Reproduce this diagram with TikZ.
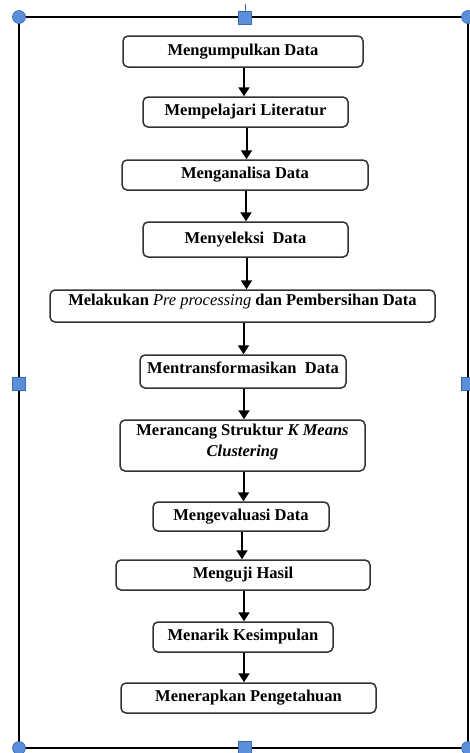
\documentclass[tikz,border=0pt]{standalone}
\usepackage{fontspec}
\setmainfont{Liberation Serif}
\usetikzlibrary{arrows.meta}
\definecolor{handleblue}{HTML}{5B8FD9}
\definecolor{handleedge}{HTML}{3A6AB0}
\tikzstyle{stepbox} = [draw=black!80, line width=1.5pt, fill=white,
    rectangle, rounded corners=5pt, align=center, inner sep=2pt,
    font=\bfseries\fontsize{16.5}{21}\selectfont]
\tikzstyle{flow} = [-{Triangle[length=9pt,width=11pt]}, line width=2pt]
\tikzstyle{handle} = [draw=handleedge, fill=handleblue, line width=0.6pt]

\begin{document}
\begin{tikzpicture}[x=1pt,y=-1pt]
    \useasboundingbox (0,0) rectangle (470,753);
    % frame with selection handles
    \draw[line width=1.5pt] (19,17) rectangle (468,748);
    \draw[handleedge, line width=1pt] (245,4) -- (245,17);
    \foreach \hx/\hy in {19/17, 468/17, 19/748, 468/748}
        \draw[handle] (\hx,\hy) circle (6.5pt);
    \foreach \hx/\hy in {245/18, 19/384, 468/384, 245/748}
        \draw[handle] (\hx-6.5,\hy-6.5) rectangle (\hx+6.5,\hy+6.5);

    % steps
    \node[stepbox, minimum width=240, minimum height=31] (s1) at (243,51.5) {Mengumpulkan Data};
    \node[stepbox, minimum width=205, minimum height=30] (s2) at (245.5,112) {Mempelajari Literatur};
    \node[stepbox, minimum width=246, minimum height=30] (s3) at (245,175) {Menganalisa Data};
    \node[stepbox, minimum width=205, minimum height=35] (s4) at (245.5,239.5) {Menyeleksi\ \ Data};
    \node[stepbox, minimum width=385, minimum height=32, text depth=12pt] (s5) at (242.5,306)
        {Melakukan {\mdseries\itshape Pre processing} dan Pembersihan Data};
    \node[stepbox, minimum width=206, minimum height=33, text depth=7pt] (s6) at (243,371.5) {Mentransformasikan\ \ Data};
    \node[stepbox, minimum width=245, minimum height=51, text depth=10pt] (s7) at (242.5,445.5)
        {Merancang Struktur \textit{K Means}\\ \textit{Clustering}};
    \node[stepbox, minimum width=176, minimum height=29] (s8) at (241,516.5) {Mengevaluasi Data};
    \node[stepbox, minimum width=254, minimum height=30] (s9) at (243,575) {Menguji Hasil};
    \node[stepbox, minimum width=180, minimum height=30] (s10) at (243,637) {Menarik Kesimpulan};
    \node[stepbox, minimum width=255, minimum height=30] (s11) at (248.5,698) {Menerapkan Pengetahuan};

    % arrows
    \foreach \a/\b in {s1/s2, s2/s3, s3/s4, s4/s5, s5/s6, s6/s7, s7/s8, s8/s9, s9/s10, s10/s11}
        \draw[flow] (\a.south) ++(1,0) coordinate (\a out) -- (\a out |- \b.north);
\end{tikzpicture}
\end{document}
